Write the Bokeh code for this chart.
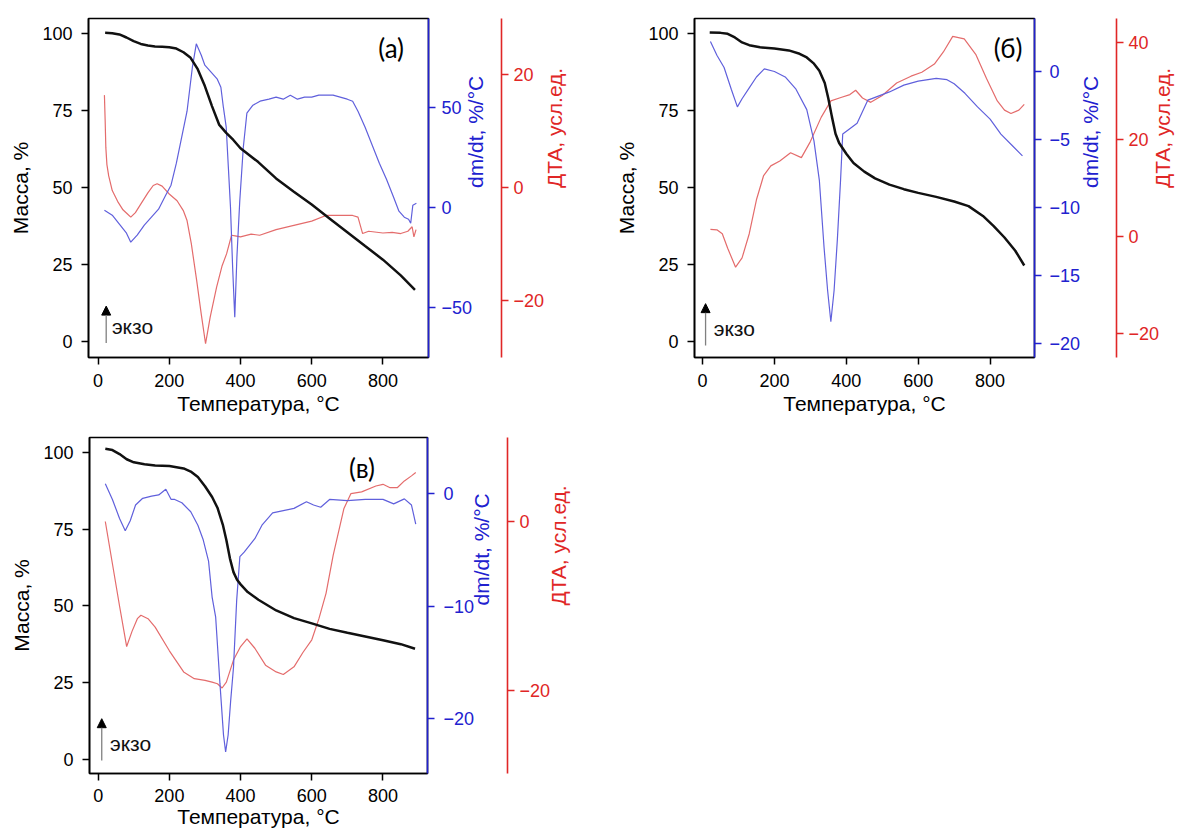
import math
from bokeh.plotting import figure
from bokeh.models import Range1d, LinearAxis, FixedTicker, Arrow, NormalHead, Label
from bokeh.layouts import row, column
from bokeh.embed import file_html
from bokeh.resources import INLINE

# ---------------- data ----------------
X_TICKS = [0, 200, 400, 600, 800]
MASS_TICKS = [0, 25, 50, 75, 100]

# panel (а)
A_TG_T = [20, 40, 60, 80, 100, 120, 140, 160, 180, 200, 220, 240, 260, 280, 300, 320, 340, 360, 380, 400,
          450, 500, 550, 600, 650, 700, 750, 800, 850, 890]
A_TG = [100.3, 100.2, 99.8, 98.8, 97.6, 96.7, 96.2, 95.9, 95.8, 95.6, 95.2, 94.0, 92.2, 88.5, 83.0, 76.5, 70.5,
        67.8, 65.5, 62.8, 58.3, 53.0, 48.7, 44.5, 40.0, 35.5, 31.0, 26.6, 21.5, 16.8]
A_DTG_T = [18, 40, 60, 80, 92, 110, 130, 150, 170, 190, 205, 220, 235, 250, 265, 276, 290, 300, 315, 335, 345,
           352, 360, 366, 372, 378, 384, 390, 398, 408, 418, 435, 455, 480, 500, 520, 540, 560, 580, 600, 620,
           640, 660, 680, 700, 715, 730, 750, 770, 790, 810, 830, 845, 860, 872, 878, 884, 894]
A_DTG = [-1.5, -4, -8.5, -13, -17.5, -14, -9, -5, -1, 6, 11, 22, 35, 48, 70, 81.7, 76, 71, 68, 64, 60,
         50, 40, 20, 0, -30, -55, -25, 3, 30, 47, 51, 53, 54, 55, 54, 56, 54, 55, 55, 56,
         56, 56, 55, 54, 53, 48, 40, 31, 22, 14, 5, -2, -5, -6, -8, 1, 2]
A_DTA_T = [18, 20, 22, 25, 30, 40, 55, 70, 82, 92, 105, 120, 140, 155, 166, 180, 200, 222, 240, 250, 262, 277,
           290, 302, 315, 333, 348, 361, 375, 385, 400, 430, 454, 500, 547, 600, 640, 680, 715, 730, 743, 760,
           800, 826, 850, 870, 882, 887, 893]
A_DTA = [16.3, 12, 7, 4, 2, -0.6, -2.5, -4, -4.7, -5.3, -4.5, -3, -1, 0.3, 0.6, 0.2, -1.2, -2.4, -4.2, -5.9,
         -10, -16.5, -22.5, -27.7, -23, -17.7, -14, -11.8, -8.5, -8.6, -8.8, -8.3, -8.5, -7.5, -6.8, -6, -5,
         -5, -5, -5.3, -8.2, -7.8, -8.1, -8, -8.2, -7.8, -7, -8.8, -7.5]
A_BLUE_TICKS = [-50, 0, 50]
A_RED_TICKS = [-20, 0, 20]

# panel (б)
B_TG_T = [20, 50, 70, 90, 110, 130, 160, 200, 240, 270, 290, 310, 325, 340, 350, 360, 370, 380, 400, 420, 450,
          480, 520, 560, 600, 650, 700, 740, 780, 810, 840, 870, 895]
B_TG = [100.4, 100.3, 100.0, 98.8, 97.2, 96.3, 95.6, 95.2, 94.6, 93.5, 92.3, 90.3, 88.0, 84.0, 79.0, 73.0, 67.5,
        64.5, 61.0, 58.0, 55.2, 53.0, 51.0, 49.5, 48.3, 47.0, 45.5, 44.0, 40.8, 37.5, 33.8, 29.5, 24.7]
B_DTG_T = [22, 40, 60, 80, 97, 110, 130, 150, 172, 200, 230, 260, 290, 310, 325, 338, 348, 357, 366, 375, 384,
           390, 405, 430, 460, 480, 520, 560, 600, 650, 680, 700, 730, 765, 800, 830, 860, 890]
B_DTG = [2.2, 1.2, 0.3, -1.3, -2.6, -2.0, -1.2, -0.4, 0.2, 0.0, -0.4, -1.3, -2.8, -5.1, -8.0, -12.9, -16.1,
         -18.4, -16.1, -12.4, -8.0, -4.6, -4.3, -3.8, -2.1, -1.9, -1.5, -1.0, -0.7, -0.5, -0.6, -0.9, -1.6,
         -2.6, -3.5, -4.6, -5.4, -6.2]
B_DTA_T = [22, 40, 55, 70, 92, 110, 130, 150, 170, 190, 215, 245, 275, 300, 330, 357, 385, 410, 426, 445, 468,
           500, 540, 580, 610, 645, 670, 696, 728, 760, 790, 820, 840, 858, 880, 895]
B_DTA = [1.4, 1.3, 0.5, -2.5, -6.4, -4.5, 0.5, 7.5, 12.5, 14.5, 15.5, 17.2, 16.2, 19.5, 24.5, 27.9, 28.6, 29.2,
         30.1, 28.5, 27.6, 29.0, 31.6, 33.0, 33.8, 35.5, 38.0, 41.2, 40.7, 37.5, 32.5, 27.9, 26.0, 25.3, 26.0,
         27.2]
B_BLUE_TICKS = [-20, -15, -10, -5, 0]
B_RED_TICKS = [-20, 0, 20, 40]

# panel (в)
C_TG_T = [20, 40, 60, 80, 100, 130, 160, 200, 240, 260, 280, 300, 320, 335, 350, 360, 370, 380, 390, 400, 420,
          450, 500, 550, 600, 650, 700, 750, 800, 850, 890]
C_TG = [101.2, 100.8, 99.5, 97.8, 96.8, 96.2, 95.8, 95.6, 94.8, 93.8, 92.0, 89.0, 85.5, 82.0, 76.5, 71.5, 65.5,
        61.0, 58.5, 57.0, 54.5, 52.0, 48.5, 46.0, 44.3, 42.5, 41.2, 40.0, 38.8, 37.5, 36.0]
C_DTG_T = [20, 40, 60, 76, 90, 105, 125, 150, 170, 190, 205, 215, 235, 260, 280, 295, 310, 320, 330, 342, 352,
           358, 365, 372, 380, 389, 398, 410, 420, 440, 460, 490, 520, 550, 585, 605, 625, 650, 700, 750, 800,
           830, 860, 880, 892]
C_DTG = [0.9, -0.5, -2.2, -3.3, -2.4, -1.0, -0.4, -0.2, -0.1, 0.4, -0.5, -0.5, -0.8, -1.6, -2.8, -4.1, -6.0,
         -9.2, -11.0, -16.9, -21.5, -23.0, -21.5, -18.5, -15.5, -9.5, -5.6, -5.2, -4.8, -4.0, -2.8, -1.7, -1.5,
         -1.3, -0.7, -1.0, -1.2, -0.5, -0.6, -0.5, -0.5, -0.9, -0.45, -1.0, -2.7]
C_DTA_T = [20, 40, 60, 80, 95, 110, 120, 140, 160, 200, 240, 270, 300, 320, 335, 348, 360, 380, 400, 418, 440,
           470, 500, 520, 550, 575, 600, 620, 640, 660, 690, 710, 740, 780, 800, 820, 840, 860, 880, 892]
C_DTA = [0, -5, -10, -14.8, -13, -11.5, -11.1, -11.5, -12.5, -15.3, -17.8, -18.6, -18.8, -19, -19.2, -19.7,
         -19, -16.4, -14.8, -13.9, -15, -17, -17.8, -18.1, -17.2, -15.5, -14, -11.5, -8.5, -4, 1.5, 3.3, 3.5,
         4.2, 4.4, 4.0, 4.0, 4.8, 5.4, 5.8]
C_BLUE_TICKS = [-20, -10, 0]
C_RED_TICKS = [-20, 0]

# ---------------- style ----------------
FONT = "Liberation Sans"
TAG_FONT = "Lato"
BLUE_AX = "#2121cf"
RED_AX = "#e02626"
BLUE_LN = "#6060dc"
RED_LN = "#e46c6c"


def style(ax, color, label, tick_out, lab_standoff, ax_standoff, right=False):
    ax.axis_line_color = color
    ax.axis_line_width = 1.6
    ax.major_tick_line_color = color
    ax.major_tick_line_width = 1.5
    ax.major_tick_out = tick_out
    ax.major_tick_in = 0
    ax.minor_tick_line_color = None
    ax.major_label_text_color = color
    ax.major_label_text_font = FONT
    ax.major_label_text_font_size = "18px"
    ax.major_label_standoff = lab_standoff
    ax.axis_label = label
    ax.axis_label_text_color = color
    ax.axis_label_text_font = FONT
    ax.axis_label_text_font_size = "21px"
    ax.axis_label_text_font_style = "normal"
    ax.axis_label_standoff = ax_standoff
    if right:
        try:
            ax.axis_label_orientation = math.pi / 2
        except Exception:
            pass


def make_panel(cfg, tg_t, tg, dtg_t, dtg, dta_t, dta, blue_ticks, red_ticks, tag, tag_pos, exo):
    p = figure(frame_width=cfg["fw"], frame_height=cfg["fh"],
               x_range=Range1d(*cfg["xr"]), y_range=Range1d(*cfg["yr"]),
               min_border_left=cfg["bl"], min_border_right=cfg["br"],
               min_border_top=cfg["bt"], min_border_bottom=cfg["bb"],
               output_backend="svg", toolbar_location=None,
               background_fill_color="white", border_fill_color="white")
    p.extra_y_ranges = {"dtg": Range1d(*cfg["blue"]), "dta": Range1d(*cfg["red"])}
    p.xgrid.visible = False
    p.ygrid.visible = False
    p.outline_line_color = "black"
    p.outline_line_width = 1.6

    xa = p.xaxis[0]
    xa.ticker = FixedTicker(ticks=X_TICKS)
    style(xa, "black", "Температура, °C", cfg["xto"], cfg["xls"], cfg["xas"])
    ya = p.yaxis[0]
    ya.ticker = FixedTicker(ticks=MASS_TICKS)
    style(ya, "black", "Масса, %", 7, 9, 7)

    ba = LinearAxis(y_range_name="dtg", ticker=FixedTicker(ticks=blue_ticks))
    style(ba, BLUE_AX, "dm/dt, %/°C", 7, cfg["bls"], cfg["bas"], right=True)
    p.add_layout(ba, "right")
    if cfg["gap"] is not None:
        sp = LinearAxis(y_range_name="dtg", ticker=FixedTicker(ticks=[]), major_tick_out=cfg["gap"],
                        major_tick_in=0, axis_line_alpha=0, major_tick_line_alpha=0, minor_tick_line_alpha=0,
                        major_label_text_font_size="1px", major_label_standoff=0)
        p.add_layout(sp, "right")
    ra = LinearAxis(y_range_name="dta", ticker=FixedTicker(ticks=red_ticks))
    style(ra, RED_AX, "ДТА, усл.ед.", 7, cfg["rls"], cfg["ras"], right=True)
    p.add_layout(ra, "right")

    p.line(dta_t, dta, y_range_name="dta", line_color=RED_LN, line_width=1.2)
    p.line(dtg_t, dtg, y_range_name="dtg", line_color=BLUE_LN, line_width=1.2)
    p.line(tg_t, tg, line_color="#111111", line_width=2.5)

    p.add_layout(Arrow(end=NormalHead(size=9, fill_color="black", line_color="black"),
                       x_start=exo[0], y_start=exo[1], x_end=exo[0], y_end=exo[2],
                       line_color="#808080", line_width=1.3))
    p.add_layout(Label(x=exo[3], y=exo[4], text="экзо", text_font=FONT, text_font_size="21px",
                       text_baseline="middle", text_align="left", text_color="#111111"))
    p.add_layout(Label(x=tag_pos[0], y=tag_pos[1], text=tag, text_font=TAG_FONT, text_font_size="26px",
                       text_baseline="middle", text_align="center", text_color="black"))
    return p


CFG_A = dict(fw=340, fh=339, bl=88, br=160, bt=18, bb=62,
             xr=(-26.7, 928), yr=(-5.2, 104.97), blue=(-75.15, 94.35), red=(-30.14, 29.86),
             xto=7, xls=9, xas=2, bls=6, bas=0, gap=None, rls=5, ras=7)
CFG_B = dict(fw=340, fh=339, bl=106, br=143, bt=18, bb=62,
             xr=(-22.3, 923.5), yr=(-5.2, 104.97), blue=(-21.03, 3.9), red=(-25.04, 44.9),
             xto=7, xls=9, xas=2, bls=8, bas=7, gap=0, rls=5, ras=0)
CFG_C = dict(fw=338, fh=336, bl=89, br=160, bt=18, bb=59,
             xr=(-24.4, 925), yr=(-4.67, 104.9), blue=(-24.93, 5.02), red=(-29.82, 9.94),
             xto=7, xls=8, xas=0, bls=9, bas=4, gap=None, rls=5, ras=5)

pa = make_panel(CFG_A, A_TG_T, A_TG, A_DTG_T, A_DTG, A_DTA_T, A_DTA, A_BLUE_TICKS, A_RED_TICKS,
                "(а)", (823, 95.5), (23, -0.5, 11.5, 39, 4.8))
pb = make_panel(CFG_B, B_TG_T, B_TG, B_DTG_T, B_DTG, B_DTA_T, B_DTA, B_BLUE_TICKS, B_RED_TICKS,
                "(б)", (850, 95.5), (8.5, -1.3, 12.3, 31, 4.1))
pc = make_panel(CFG_C, C_TG_T, C_TG, C_DTG_T, C_DTG, C_DTA_T, C_DTA, C_BLUE_TICKS, C_RED_TICKS,
                "(в)", (741, 94.9), (10, -0.4, 13.2, 33, 5.2))

layout = column(row(pa, pb), pc)
open("out.html", "w").write(file_html(layout, INLINE))
